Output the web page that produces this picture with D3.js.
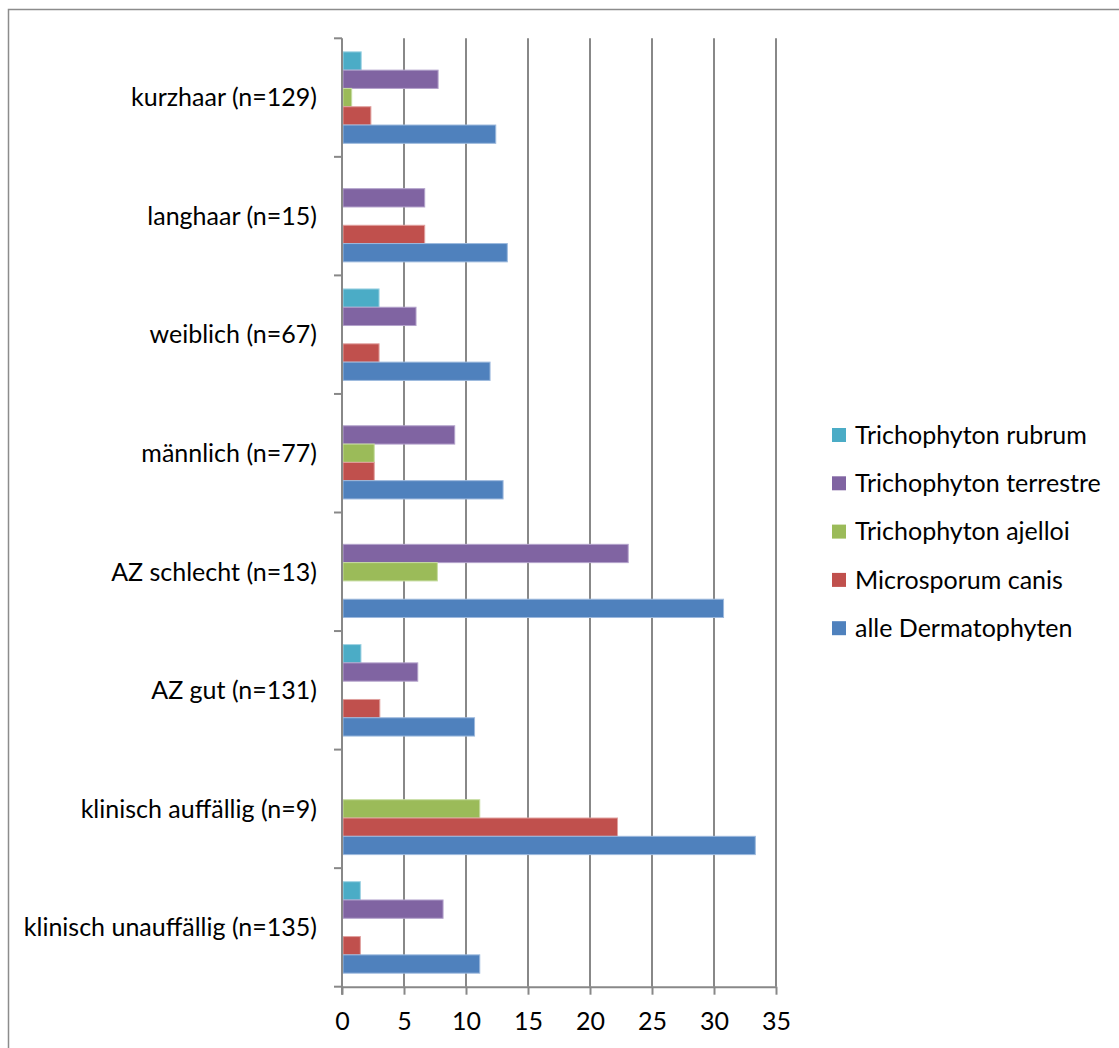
<!DOCTYPE html>
<html>
<head>
<meta charset="utf-8">
<script src="https://cdn.jsdelivr.net/npm/d3@7"></script>
<style>
  html, body { margin: 0; padding: 0; background: #fff; }
  svg { display: block; }
  text { font-family: Lato, "Open Sans", sans-serif; fill: #000; }
</style>
</head>
<body>
<svg id="chart" width="1119" height="1048"></svg>
<script>
// Groups, top to bottom as listed on the category axis
const categories = [
  "kurzhaar (n=129)",
  "langhaar (n=15)",
  "weiblich (n=67)",
  "männlich (n=77)",
  "AZ schlecht (n=13)",
  "AZ gut (n=131)",
  "klinisch auffällig (n=9)",
  "klinisch unauffällig (n=135)"
];

// Series names, in legend order (top bar of each group first)
const seriesNames = [
  "Trichophyton rubrum",
  "Trichophyton terrestre",
  "Trichophyton ajelloi",
  "Microsporum canis",
  "alle Dermatophyten"
];

const seriesColors = ["#4BACC6", "#8064A2", "#9BBB59", "#C0504D", "#4F81BD"];
const seriesStrokes = ["#9FD3E3", "#B3A2CB", "#C6DCA0", "#E0A09E", "#9CB9DD"];

// Percentages per series, one value per category (same order as categories)
const trichophytonRubrum    = [1.55, 0,     2.99, 0,    0,     1.53, 0,     1.48];
const trichophytonTerrestre = [7.75, 6.67,  5.97, 9.09, 23.08, 6.11, 0,     8.15];
const trichophytonAjelloi   = [0.78, 0,     0,    2.60, 7.69,  0,    11.11, 0];
const microsporumCanis      = [2.33, 6.67,  2.99, 2.60, 0,     3.05, 22.22, 1.48];
const alleDermatophyten     = [12.40, 13.33, 11.94, 12.99, 30.77, 10.69, 33.33, 11.11];

const seriesValues = [
  trichophytonRubrum,
  trichophytonTerrestre,
  trichophytonAjelloi,
  microsporumCanis,
  alleDermatophyten
];

const xTicks = [0, 5, 10, 15, 20, 25, 30, 35];

const svg = d3.select("#chart");
const fontSize = 25;
const gridColor = "#888888";

// outer chart frame
svg.append("rect")
  .attr("x", 8.5).attr("y", 9.5)
  .attr("width", 1130).attr("height", 1060)
  .attr("fill", "none").attr("stroke", "#8c8c8c").attr("stroke-width", 1.5);

const plot = { left: 342, right: 776, top: 38.3, bottom: 986.7 };

const x = d3.scaleLinear().domain([0, 35]).range([plot.left, plot.right]);
const y = d3.scaleBand().domain(categories).range([plot.top, plot.bottom]).padding(0);
const yInner = d3.scaleBand().domain(seriesNames).range([0, y.bandwidth()])
  .paddingInner(0).paddingOuter(0.74);

// vertical gridlines
svg.append("g")
  .selectAll("line")
  .data(xTicks.filter(t => t > 0))
  .join("line")
  .attr("x1", d => x(d)).attr("x2", d => x(d))
  .attr("y1", plot.top).attr("y2", plot.bottom)
  .attr("stroke", gridColor).attr("stroke-width", 2);

// bars
const groups = svg.append("g")
  .selectAll("g")
  .data(categories)
  .join("g")
  .attr("transform", d => `translate(0,${y(d)})`);

groups.selectAll("rect")
  .data((c, ci) => seriesNames.map((s, si) => ({ s, si, v: seriesValues[si][ci] })).filter(d => d.v > 0))
  .join("rect")
  .attr("x", x(0) + 1)
  .attr("y", d => yInner(d.s))
  .attr("width", d => x(d.v) - x(0) - 1)
  .attr("height", yInner.bandwidth())
  .attr("fill", d => seriesColors[d.si])
  .attr("stroke", d => seriesStrokes[d.si])
  .attr("stroke-width", 1);

// x axis
const xAxis = svg.append("g")
  .attr("transform", `translate(0,${plot.bottom})`)
  .call(d3.axisBottom(x).tickValues(xTicks).tickSize(8).tickSizeOuter(0).tickPadding(18));
xAxis.select(".domain").attr("stroke", gridColor).attr("stroke-width", 2);
xAxis.selectAll(".tick line").attr("stroke", gridColor).attr("stroke-width", 2);
xAxis.selectAll("text").attr("font-size", fontSize).attr("font-family", "Lato, sans-serif").attr("fill", "#000");

// y axis: ticks on category boundaries, labels centred in each band
const yAxisG = svg.append("g");
yAxisG.append("line")
  .attr("x1", plot.left).attr("x2", plot.left)
  .attr("y1", plot.top).attr("y2", plot.bottom + 8)
  .attr("stroke", gridColor).attr("stroke-width", 2);
const boundaries = categories.map(c => y(c)).concat([plot.bottom]);
yAxisG.selectAll("line.tick")
  .data(boundaries)
  .join("line")
  .attr("class", "tick")
  .attr("x1", plot.left - 8).attr("x2", plot.left)
  .attr("y1", d => d).attr("y2", d => d)
  .attr("stroke", gridColor).attr("stroke-width", 2);
yAxisG.selectAll("text")
  .data(categories)
  .join("text")
  .attr("x", 317)
  .attr("y", d => y(d) + y.bandwidth() / 2)
  .attr("dy", "0.35em")
  .attr("text-anchor", "end")
  .attr("font-size", fontSize)
  .text(d => d);

// legend
const legend = svg.append("g").attr("transform", "translate(832,435)");
const legendRow = 48.3;
const items = legend.selectAll("g")
  .data(seriesNames)
  .join("g")
  .attr("transform", (d, i) => `translate(0,${i * legendRow})`);
items.append("rect")
  .attr("x", 0).attr("y", -7)
  .attr("width", 14).attr("height", 14)
  .attr("fill", (d, i) => seriesColors[i]);
items.append("text")
  .attr("x", 23).attr("y", 0).attr("dy", "0.35em")
  .attr("font-size", fontSize)
  .text(d => d);
</script>
</body>
</html>
